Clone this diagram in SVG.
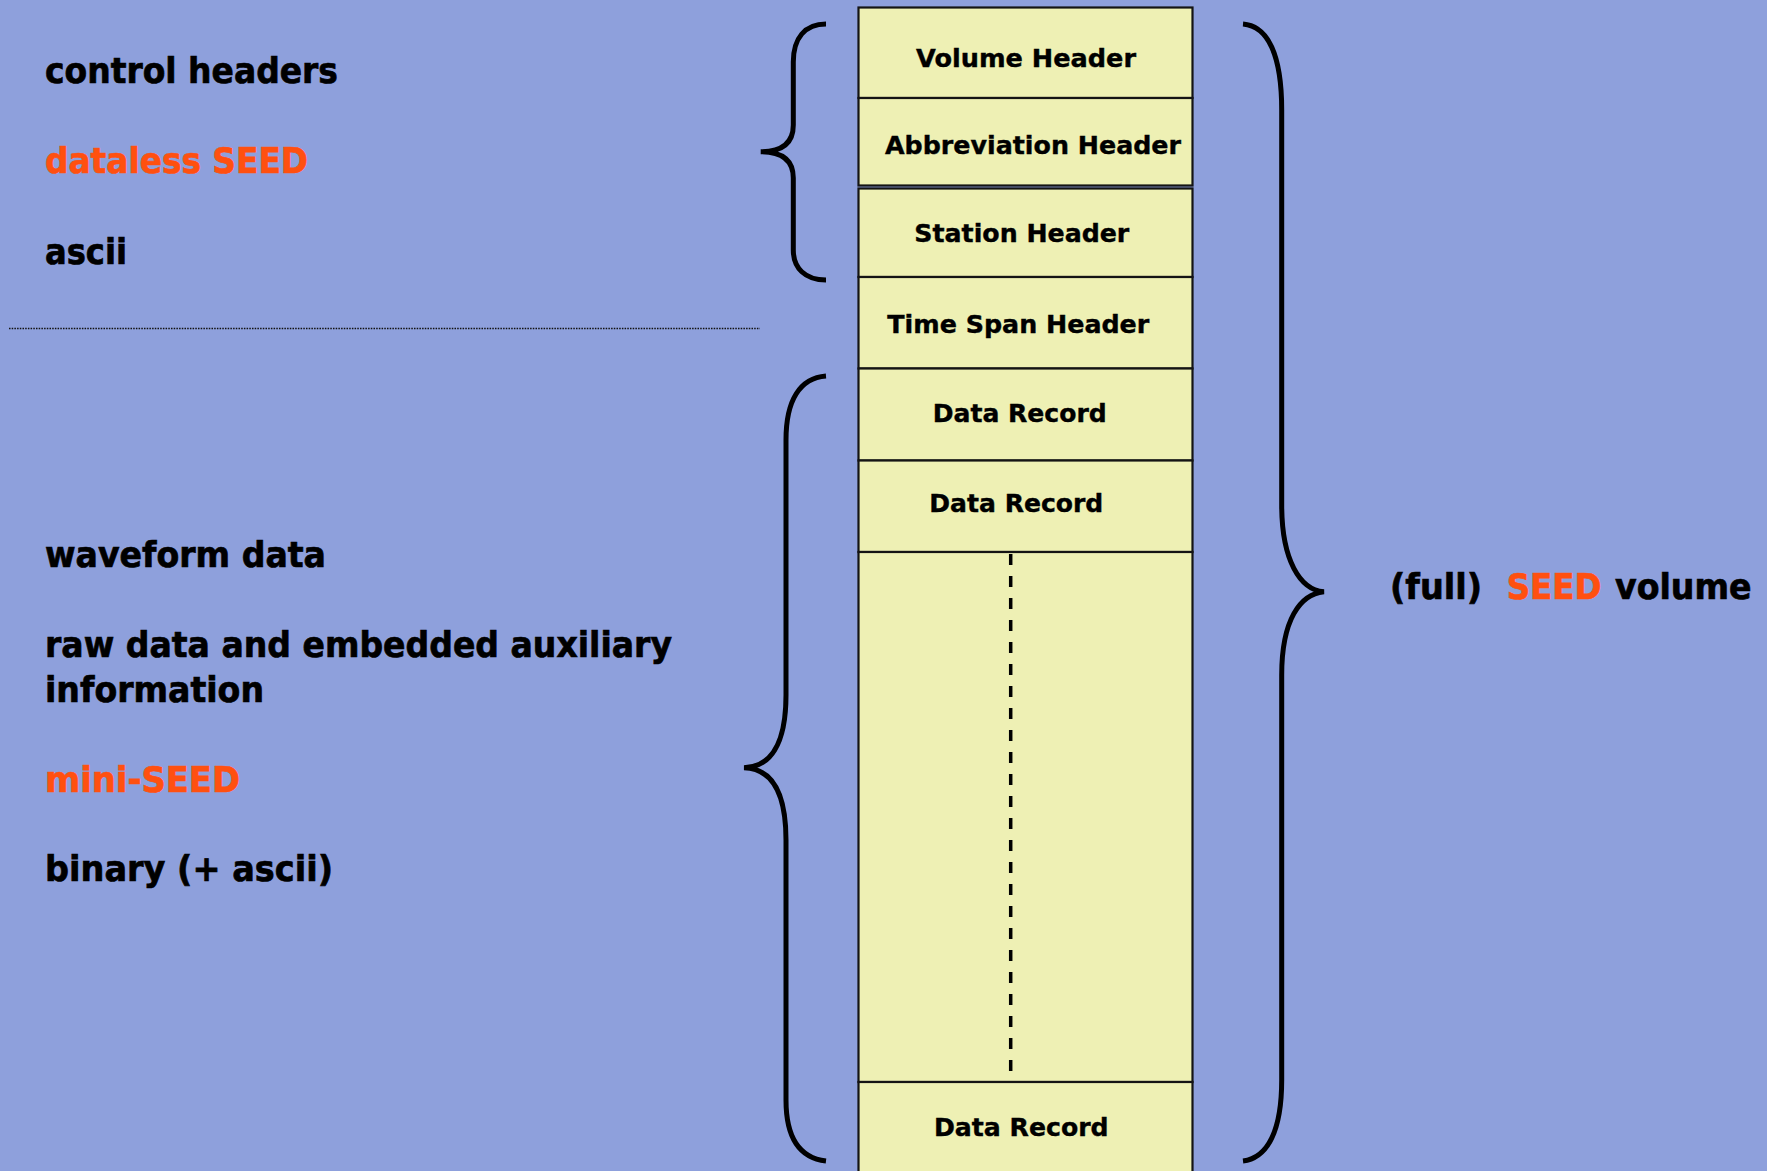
<svg xmlns="http://www.w3.org/2000/svg" width="1767" height="1171" viewBox="0 0 1767 1171">
  <style>
    .cell { fill: #EEF0B4; stroke: #141414; stroke-width: 2.2; }
    .lbl { font-family: "DejaVu Sans", "Verdana", sans-serif; font-weight: bold; font-size: 25px; fill: #000; stroke: #000; stroke-width: 0.4; }
    .side { font-family: "DejaVu Sans", "Verdana", sans-serif; font-weight: bold; font-size: 36px; fill: #000; stroke: #000; stroke-width: 0.7; }
    .side.hl { fill: #FF5010; stroke: #FF5010; }
    .brace { fill: none; stroke: #000; stroke-width: 5; stroke-linecap: butt; }
    .dots { stroke: #111; stroke-width: 1.5; stroke-dasharray: 1.5 1.2; }
    .dash { stroke: #000; stroke-width: 3.5; stroke-dasharray: 11 11; }
  </style>
  <rect x="0" y="0" width="1767" height="1171" fill="#8EA0DC"/>

  <g id="left-labels">
    <text class="side" x="45" y="83.3" textLength="293" lengthAdjust="spacingAndGlyphs">control headers</text>
    <text class="side hl" x="45" y="173.3" textLength="263" lengthAdjust="spacingAndGlyphs">dataless SEED</text>
    <text class="side" x="45" y="264.3" textLength="82" lengthAdjust="spacingAndGlyphs">ascii</text>
    <line class="dots" x1="9" y1="328.5" x2="760" y2="328.5"/>
    <text class="side" x="45" y="566.7" textLength="281" lengthAdjust="spacingAndGlyphs">waveform data</text>
    <text class="side" x="45" y="656.7" textLength="627" lengthAdjust="spacingAndGlyphs">raw data and embedded auxiliary</text>
    <text class="side" x="45" y="701.7" textLength="219" lengthAdjust="spacingAndGlyphs">information</text>
    <text class="side hl" x="45" y="791.7" textLength="195" lengthAdjust="spacingAndGlyphs">mini-SEED</text>
    <text class="side" x="45" y="881" textLength="288" lengthAdjust="spacingAndGlyphs">binary (+ ascii)</text>
  </g>

  <g id="volume-header">
    <rect class="cell" x="858.5" y="7.5" width="334" height="90.5"/>
    <text class="lbl" x="916" y="66.7" textLength="220" lengthAdjust="spacingAndGlyphs">Volume Header</text>
  </g>
  <g id="abbreviation-header">
    <rect class="cell" x="858.5" y="98" width="334" height="87.5"/>
    <text class="lbl" x="885" y="154.3" textLength="296" lengthAdjust="spacingAndGlyphs">Abbreviation Header</text>
  </g>
  <g id="station-header">
    <rect class="cell" x="858.5" y="188.5" width="334" height="88.5"/>
    <text class="lbl" x="914.3" y="242.3" textLength="215" lengthAdjust="spacingAndGlyphs">Station Header</text>
  </g>
  <g id="time-span-header">
    <rect class="cell" x="858.5" y="277" width="334" height="91.5"/>
    <text class="lbl" x="887.3" y="332.7" textLength="262" lengthAdjust="spacingAndGlyphs">Time Span Header</text>
  </g>
  <g id="data-record-1">
    <rect class="cell" x="858.5" y="368.5" width="334" height="92"/>
    <text class="lbl" x="932.7" y="422.3" textLength="174" lengthAdjust="spacingAndGlyphs">Data Record</text>
  </g>
  <g id="data-record-2">
    <rect class="cell" x="858.5" y="460.5" width="334" height="91.5"/>
    <text class="lbl" x="929.3" y="512.3" textLength="174" lengthAdjust="spacingAndGlyphs">Data Record</text>
  </g>
  <g id="more-records">
    <rect class="cell" x="858.5" y="552" width="334" height="530"/>
    <line class="dash" x1="1010.7" y1="554" x2="1010.7" y2="1073"/>
  </g>
  <g id="data-record-n">
    <rect class="cell" x="858.5" y="1082" width="334" height="100"/>
    <text class="lbl" x="934" y="1135.7" textLength="174.6" lengthAdjust="spacingAndGlyphs">Data Record</text>
  </g>

  <g id="connectors">
    <path class="brace" d="M826,24 C805,24 793.3,38 793.3,62 L793.3,125 C793.3,143 782,151.7 760.7,151.7 C782,151.7 793.3,160 793.3,178 L793.3,250 C793.3,268 805,280 826,280"/>
    <path class="brace" d="M826,376 C800,378 786,400 786,440 L786,695 C786,745 770,767 744,767.7 C770,768.5 786,790 786,840 L786,1100 C786,1138 800,1158 826,1161"/>
    <path class="brace" d="M1243,24 C1268,26 1281.7,55 1281.7,110 L1281.7,505 C1281.7,560 1300,590 1324,591.7 C1300,594 1281.7,620 1281.7,675 L1281.7,1080 C1281.7,1130 1268,1158 1243,1161"/>
  </g>

  <g id="volume-label">
    <text class="side" x="1390" y="599" textLength="92" lengthAdjust="spacingAndGlyphs">(full)</text>
    <text class="side hl" x="1506.7" y="599" textLength="94.7" lengthAdjust="spacingAndGlyphs">SEED</text>
    <text class="side" x="1615" y="599" textLength="136.5" lengthAdjust="spacingAndGlyphs">volume</text>
  </g>
</svg>
